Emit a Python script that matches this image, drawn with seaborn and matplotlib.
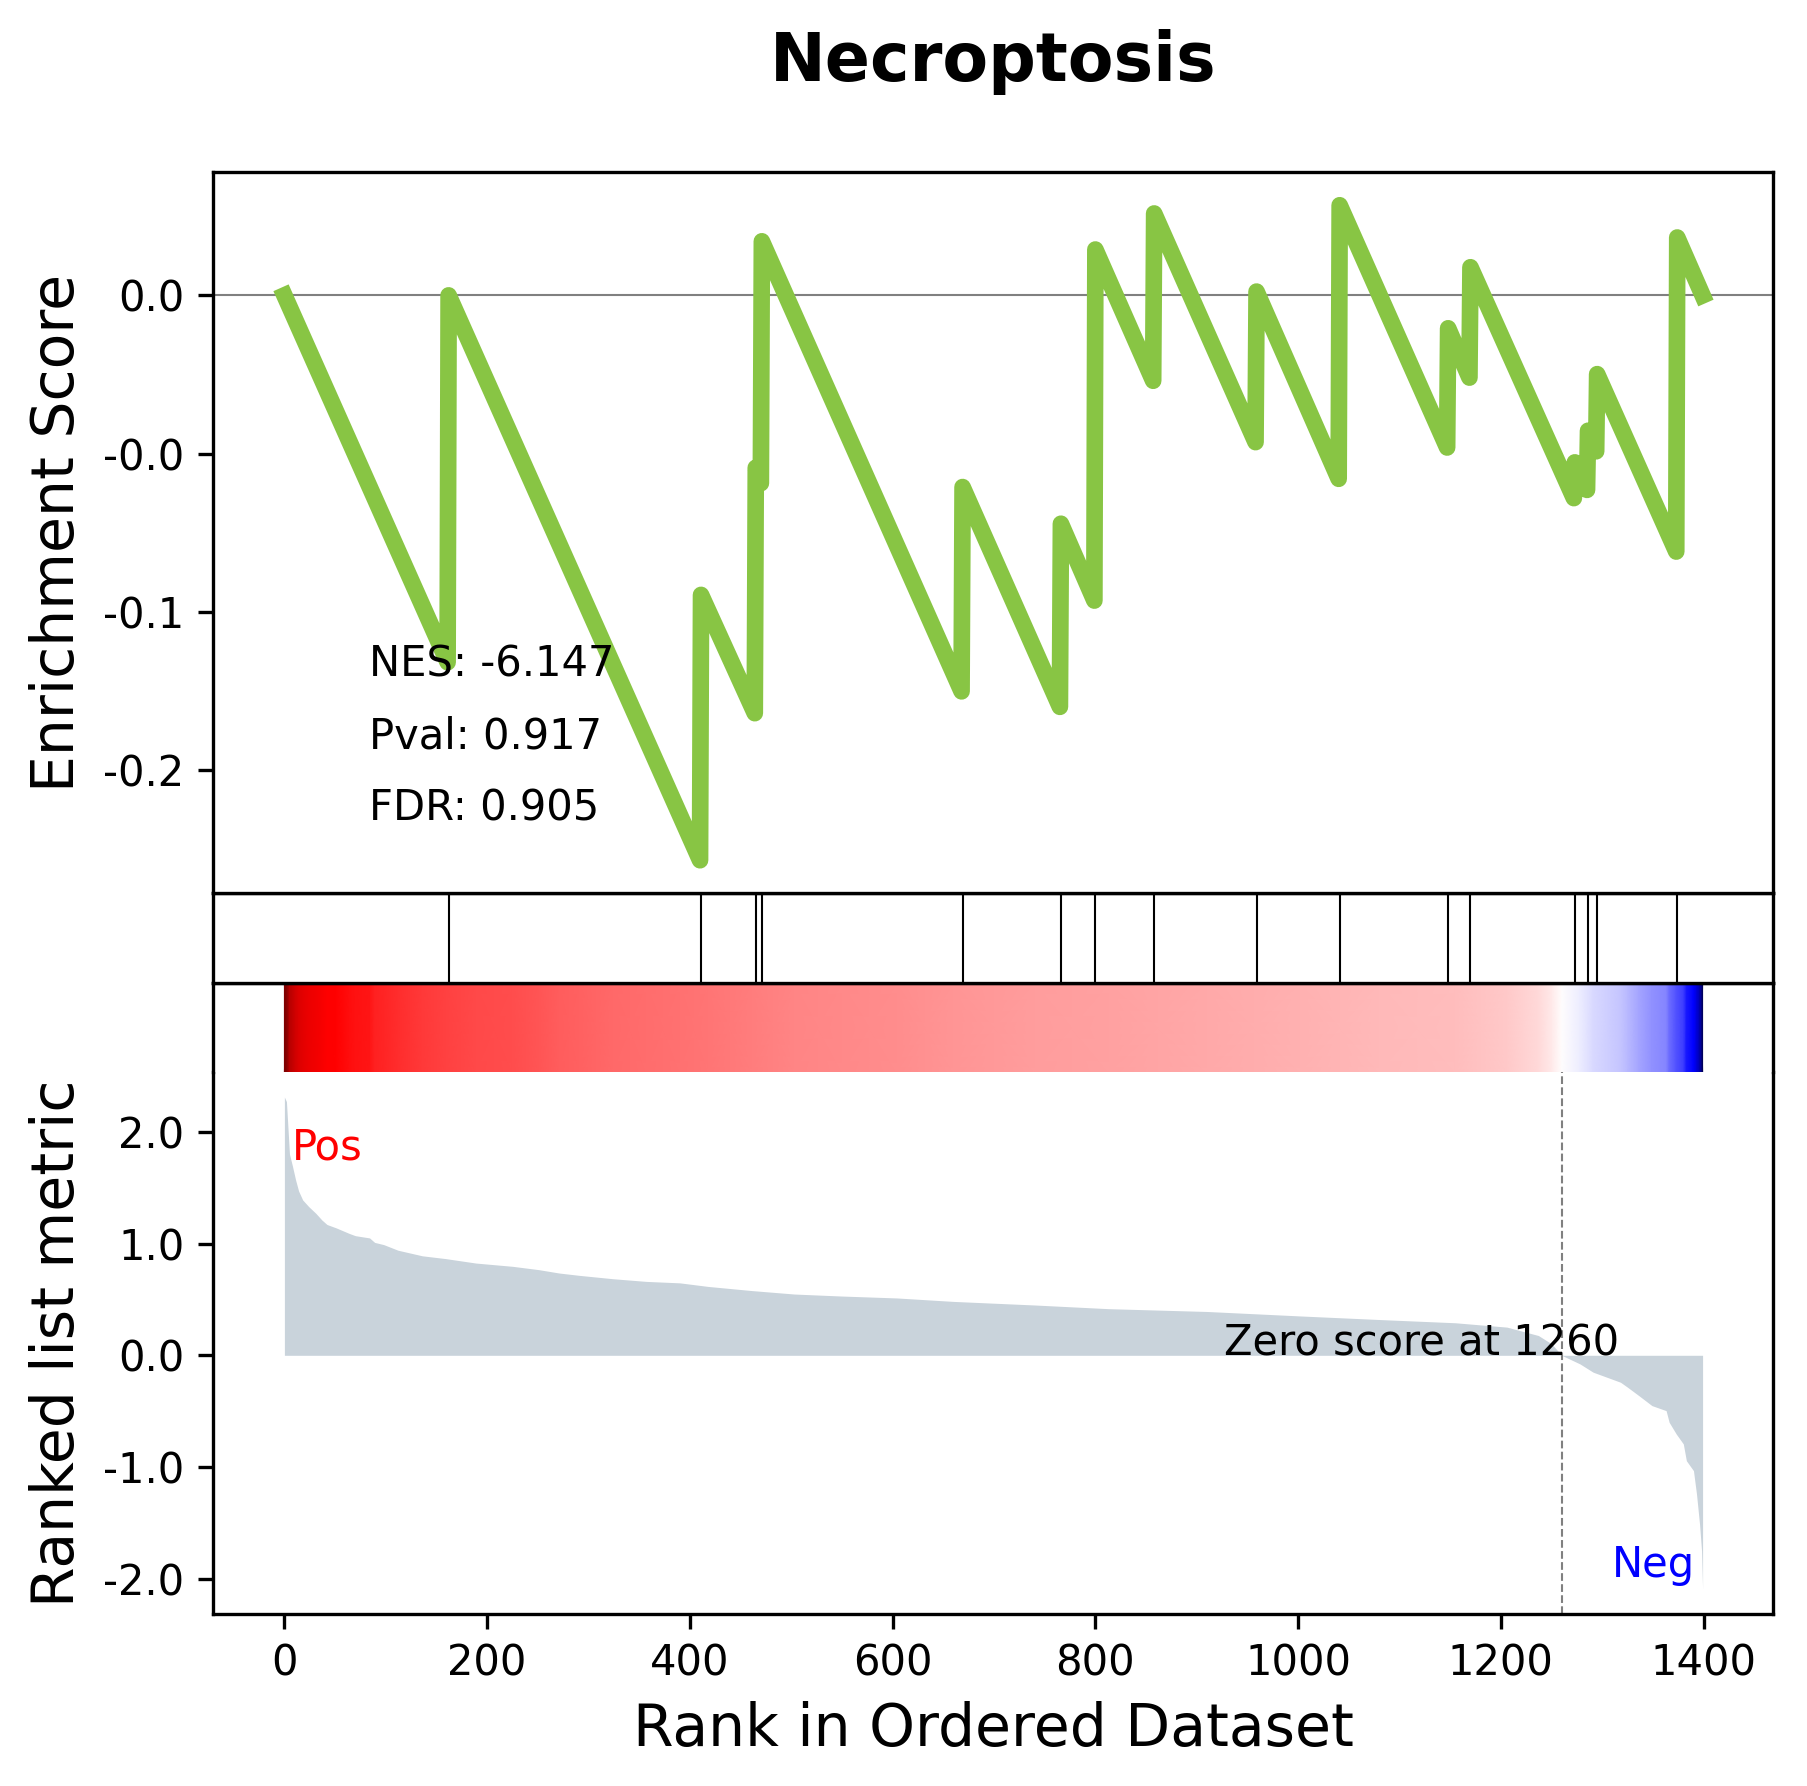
import numpy as np
import matplotlib
matplotlib.use("Agg")
import matplotlib.pyplot as plt
import seaborn as sns
from matplotlib.colors import TwoSlopeNorm
from matplotlib.ticker import FuncFormatter

# running enrichment score, read at the corners of the curve
es_rank = [0, 161, 162, 410, 411, 464, 465, 470, 471, 668, 669, 765, 766, 799, 800,
           857, 858, 958, 959, 1040, 1041, 1147, 1148, 1169, 1170, 1272, 1273,
           1285, 1286, 1294, 1295, 1373, 1374, 1399]
es_score = [0.0, -0.116, 0.0, -0.1786, -0.0947, -0.1321, -0.0545, -0.0594, 0.0171,
            -0.1252, -0.0606, -0.1301, -0.0722, -0.0965, 0.0145, -0.027, 0.0259,
            -0.0464, 0.0012, -0.058, 0.0285, -0.0481, -0.0104, -0.026, 0.0089,
            -0.0641, -0.0528, -0.0615, -0.0428, -0.0493, -0.0249, -0.081, 0.0183, 0.0]

# positions of the gene set members in the ranked list
hit_ranks = [162, 411, 465, 471, 669, 766, 800, 858, 959, 1041, 1148, 1170,
             1273, 1286, 1295, 1374]

# ranked list metric, read along the grey area
metric_rank = [0, 2, 5, 8, 11, 14, 18, 24, 31, 37, 42, 51, 64, 70, 84, 89, 98, 112,
               136, 159, 189, 225, 251, 271, 291, 324, 357, 390, 418, 461, 503, 550,
               604, 660, 740, 813, 910, 1002, 1080, 1155, 1206, 1237, 1250, 1260,
               1278, 1291, 1318, 1325, 1336, 1349, 1363, 1366, 1373, 1380, 1383,
               1390, 1393, 1396, 1398, 1399]
metric_value = [2.31, 2.27, 1.80, 1.69, 1.57, 1.47, 1.39, 1.33, 1.27, 1.21, 1.17, 1.14,
                1.09, 1.07, 1.05, 1.01, 0.99, 0.94, 0.89, 0.865, 0.825, 0.796, 0.766,
                0.736, 0.715, 0.685, 0.661, 0.648, 0.616, 0.579, 0.548, 0.53, 0.513,
                0.482, 0.45, 0.417, 0.392, 0.352, 0.32, 0.291, 0.252, 0.177, 0.103,
                0.0, -0.077, -0.151, -0.241, -0.286, -0.36, -0.45, -0.495, -0.599,
                -0.704, -0.793, -0.943, -1.032, -1.241, -1.51, -1.749, -2.09]

title = "Necroptosis"
zero_rank = 1260
stats = ["NES: -6.147", "Pval: 0.917", "FDR: 0.905"]

fig = plt.figure(figsize=(1807 / 300, 1786 / 300), dpi=300)
left, width = 0.11815, 0.86331
ax_rank = fig.add_axes([left, 0.09658, width, 0.30292])
ax_cb = fig.add_axes([left, 0.39950, width, 0.05011], sharex=ax_rank)
ax_hit = fig.add_axes([left, 0.44961, width, 0.05039], sharex=ax_rank)
ax_es = fig.add_axes([left, 0.5, width, 0.40342], sharex=ax_rank)

# ranked metric
ax_rank.fill_between(metric_rank, metric_value, 0, color="#C9D3DB", linewidth=0)
ax_rank.axvline(zero_rank, color="grey", linestyle="--", linewidth=0.5)
ax_rank.text(0.05, 0.9, "Pos", color="red", ha="left", va="top",
             transform=ax_rank.transAxes, fontsize=10)
ax_rank.text(0.95, 0.05, "Neg", color="blue", ha="right", va="bottom",
             transform=ax_rank.transAxes, fontsize=10)
ax_rank.text(1122, 0.5, f"Zero score at {zero_rank}", ha="center", va="center",
             transform=ax_rank.get_xaxis_transform(), fontsize=10)
ax_rank.set_xlabel("Rank in Ordered Dataset", fontsize=14)
ax_rank.set_ylabel("Ranked list metric", fontsize=14)
ax_rank.yaxis.set_major_formatter(FuncFormatter(lambda v, p: "{:.1f}".format(v)))
ax_rank.spines["top"].set_visible(False)
ax_rank.tick_params(labelsize=10)

# colour strip
vals = np.array(metric_value)
norm = TwoSlopeNorm(vcenter=0, vmin=vals.min(), vmax=vals.max())
mesh = ax_cb.pcolormesh(metric_rank, [0, 1], np.vstack([vals, vals]),
                        cmap="seismic", norm=norm, shading="gouraud")
mesh.sticky_edges.x[:] = []
mesh.sticky_edges.y[:] = []
ax_cb.set_ylim(0, 1)
ax_cb.spines["bottom"].set_visible(False)
ax_cb.tick_params(bottom=False, labelbottom=False, left=False, labelleft=False)

# hits
ax_hit.vlines(hit_ranks, 0, 1, color="black", linewidth=0.5,
              transform=ax_hit.get_xaxis_transform())
ax_hit.set_ylim(0, 1)
ax_hit.tick_params(bottom=False, labelbottom=False, left=False, labelleft=False)

# enrichment score
sns.lineplot(x=es_rank, y=es_score, ax=ax_es, color="#88C544", linewidth=4, sort=False)
ax_es.axhline(0, color="grey", linewidth=0.5, zorder=0)
for i, s in enumerate(stats):
    ax_es.text(0.1, 0.3 - 0.1 * i, s, transform=ax_es.transAxes, fontsize=10)
ax_es.set_ylabel("Enrichment Score", fontsize=14)
ax_es.yaxis.set_major_formatter(FuncFormatter(lambda v, p: "{:.1f}".format(v)))
ax_es.tick_params(axis="x", bottom=False, labelbottom=False)
ax_es.tick_params(axis="y", labelsize=10)
ax_es.set_title(title, fontsize=16, fontweight="bold", pad=22)

fig.savefig("out.png", dpi=300)
